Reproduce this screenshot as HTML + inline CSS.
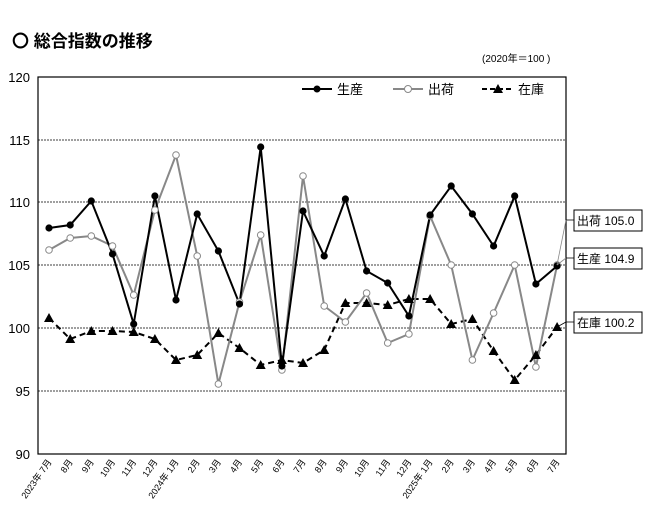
<!DOCTYPE html><html><head><meta charset="utf-8"><style>body{margin:0;background:#fff}svg{display:block;font-family:"Liberation Sans","Noto Sans CJK JP",sans-serif}</style></head><body>
<svg width="648" height="511" viewBox="0 0 648 511">
<defs>
<path id="tri" d="M0,-5 L5,4 L-5,4Z" fill="#000"/>
<circle id="oc" r="3.3" fill="#fff" stroke="#888" stroke-width="1"/>
<circle id="bc" r="3.6" fill="#000"/>
</defs>
<text x="12" y="47" font-size="17" font-weight="bold">〇 総合指数の推移</text>
<text x="482" y="62" font-size="10">(2020年＝100 )</text>
<g stroke="#000" stroke-width="0.8" stroke-dasharray="2,1">
<line x1="38" x2="566" y1="140" y2="140"/><line x1="38" x2="566" y1="202" y2="202"/><line x1="38" x2="566" y1="265" y2="265"/><line x1="38" x2="566" y1="328" y2="328"/><line x1="38" x2="566" y1="391" y2="391"/></g>
<rect x="38" y="77" width="528" height="377" fill="none" stroke="#000" stroke-width="1.2"/>
<g font-size="13" text-anchor="end"><text x="30" y="82">120</text><text x="30" y="145">115</text><text x="30" y="207">110</text><text x="30" y="270">105</text><text x="30" y="333">100</text><text x="30" y="396">95</text><text x="30" y="459">90</text></g>

<polyline fill="none" stroke="#000" stroke-width="2" stroke-dasharray="6,4" points="49,318 70.2,339 91.3,331 112.5,331 133.7,332 154.9,339 176,360 197.2,355 218.4,333 239.5,348 260.7,365 281.9,360 303,363 324.2,350 345.4,303 366.6,303 387.7,305 408.9,299 430.1,299 451.2,324 472.4,319 493.6,351 514.7,380 535.9,355 557.1,327"/>
<polyline fill="none" stroke="#888" stroke-width="2" points="49,250 70.2,238 91.3,236 112.5,246 133.7,295 154.9,210 176,155 197.2,256 218.4,384 239.5,302 260.7,235 281.9,370 303,176 324.2,306 345.4,322 366.6,293 387.7,343 408.9,334 430.1,216 451.2,265 472.4,360 493.6,313 514.7,265 535.9,367 557.1,265"/>
<polyline fill="none" stroke="#000" stroke-width="2" points="49,228 70.2,225 91.3,201 112.5,254 133.7,324 154.9,196 176,300 197.2,214 218.4,251 239.5,304 260.7,147 281.9,366 303,211 324.2,256 345.4,199 366.6,271 387.7,283 408.9,316 430.1,215 451.2,186 472.4,214 493.6,246 514.7,196 535.9,284 557.1,266"/>

<use href="#tri" x="49" y="318"/><use href="#tri" x="70.2" y="339"/><use href="#tri" x="91.3" y="331"/><use href="#tri" x="112.5" y="331"/><use href="#tri" x="133.7" y="332"/><use href="#tri" x="154.9" y="339"/><use href="#tri" x="176" y="360"/><use href="#tri" x="197.2" y="355"/><use href="#tri" x="218.4" y="333"/><use href="#tri" x="239.5" y="348"/><use href="#tri" x="260.7" y="365"/><use href="#tri" x="281.9" y="360"/><use href="#tri" x="303" y="363"/><use href="#tri" x="324.2" y="350"/><use href="#tri" x="345.4" y="303"/><use href="#tri" x="366.6" y="303"/><use href="#tri" x="387.7" y="305"/><use href="#tri" x="408.9" y="299"/><use href="#tri" x="430.1" y="299"/><use href="#tri" x="451.2" y="324"/><use href="#tri" x="472.4" y="319"/><use href="#tri" x="493.6" y="351"/><use href="#tri" x="514.7" y="380"/><use href="#tri" x="535.9" y="355"/><use href="#tri" x="557.1" y="327"/>

<use href="#oc" x="49" y="250"/><use href="#oc" x="70.2" y="238"/><use href="#oc" x="91.3" y="236"/><use href="#oc" x="112.5" y="246"/><use href="#oc" x="133.7" y="295"/><use href="#oc" x="154.9" y="210"/><use href="#oc" x="176" y="155"/><use href="#oc" x="197.2" y="256"/><use href="#oc" x="218.4" y="384"/><use href="#oc" x="239.5" y="302"/><use href="#oc" x="260.7" y="235"/><use href="#oc" x="281.9" y="370"/><use href="#oc" x="303" y="176"/><use href="#oc" x="324.2" y="306"/><use href="#oc" x="345.4" y="322"/><use href="#oc" x="366.6" y="293"/><use href="#oc" x="387.7" y="343"/><use href="#oc" x="408.9" y="334"/><use href="#oc" x="430.1" y="216"/><use href="#oc" x="451.2" y="265"/><use href="#oc" x="472.4" y="360"/><use href="#oc" x="493.6" y="313"/><use href="#oc" x="514.7" y="265"/><use href="#oc" x="535.9" y="367"/><use href="#oc" x="557.1" y="265"/>

<use href="#bc" x="49" y="228"/><use href="#bc" x="70.2" y="225"/><use href="#bc" x="91.3" y="201"/><use href="#bc" x="112.5" y="254"/><use href="#bc" x="133.7" y="324"/><use href="#bc" x="154.9" y="196"/><use href="#bc" x="176" y="300"/><use href="#bc" x="197.2" y="214"/><use href="#bc" x="218.4" y="251"/><use href="#bc" x="239.5" y="304"/><use href="#bc" x="260.7" y="147"/><use href="#bc" x="281.9" y="366"/><use href="#bc" x="303" y="211"/><use href="#bc" x="324.2" y="256"/><use href="#bc" x="345.4" y="199"/><use href="#bc" x="366.6" y="271"/><use href="#bc" x="387.7" y="283"/><use href="#bc" x="408.9" y="316"/><use href="#bc" x="430.1" y="215"/><use href="#bc" x="451.2" y="186"/><use href="#bc" x="472.4" y="214"/><use href="#bc" x="493.6" y="246"/><use href="#bc" x="514.7" y="196"/><use href="#bc" x="535.9" y="284"/><use href="#bc" x="557.1" y="266"/>

<g font-size="13">
<line x1="302" x2="332" y1="89" y2="89" stroke="#000" stroke-width="2"/><circle cx="317" cy="89" r="3.5"/><text x="337" y="94">生産</text>
<line x1="393" x2="423" y1="89" y2="89" stroke="#888" stroke-width="2"/><circle cx="408" cy="89" r="3.5" fill="#fff" stroke="#888"/><text x="428" y="94">出荷</text>
<line x1="482" x2="514" y1="89" y2="89" stroke="#000" stroke-width="2" stroke-dasharray="5,3"/><path d="M498,84 L503,93 L493,93Z"/><text x="518" y="94">在庫</text>
</g>
<g font-size="12"><rect x="574" y="210" width="68" height="21" fill="#fff" stroke="#000"/><text x="577" y="225">出荷 105.0</text>
<rect x="574" y="248" width="68" height="21" fill="#fff" stroke="#000"/><text x="577" y="263">生産 104.9</text>
<rect x="574" y="312" width="68" height="21" fill="#fff" stroke="#000"/><text x="577" y="327">在庫 100.2</text></g>
<g stroke-width="0.8"><line x1="566" y1="220" x2="574" y2="220" stroke="#000"/><line x1="557" y1="265" x2="566" y2="220" stroke="#888"/>
<line x1="566" y1="258" x2="574" y2="258" stroke="#000"/><line x1="557" y1="265" x2="566" y2="258" stroke="#888"/>
<line x1="566" y1="322" x2="574" y2="322" stroke="#000"/><line x1="557" y1="327" x2="566" y2="322" stroke="#000"/></g>

<g font-size="9" text-anchor="end">
<text transform="translate(52,462) rotate(-55)">2023年 7月</text>
<text transform="translate(73.2,462) rotate(-55)">8月</text>
<text transform="translate(94.3,462) rotate(-55)">9月</text>
<text transform="translate(115.5,462) rotate(-55)">10月</text>
<text transform="translate(136.7,462) rotate(-55)">11月</text>
<text transform="translate(157.9,462) rotate(-55)">12月</text>
<text transform="translate(179,462) rotate(-55)">2024年 1月</text>
<text transform="translate(200.2,462) rotate(-55)">2月</text>
<text transform="translate(221.4,462) rotate(-55)">3月</text>
<text transform="translate(242.5,462) rotate(-55)">4月</text>
<text transform="translate(263.7,462) rotate(-55)">5月</text>
<text transform="translate(284.9,462) rotate(-55)">6月</text>
<text transform="translate(306,462) rotate(-55)">7月</text>
<text transform="translate(327.2,462) rotate(-55)">8月</text>
<text transform="translate(348.4,462) rotate(-55)">9月</text>
<text transform="translate(369.6,462) rotate(-55)">10月</text>
<text transform="translate(390.7,462) rotate(-55)">11月</text>
<text transform="translate(411.9,462) rotate(-55)">12月</text>
<text transform="translate(433.1,462) rotate(-55)">2025年 1月</text>
<text transform="translate(454.2,462) rotate(-55)">2月</text>
<text transform="translate(475.4,462) rotate(-55)">3月</text>
<text transform="translate(496.6,462) rotate(-55)">4月</text>
<text transform="translate(517.7,462) rotate(-55)">5月</text>
<text transform="translate(538.9,462) rotate(-55)">6月</text>
<text transform="translate(560.1,462) rotate(-55)">7月</text>
</g>
</svg></body></html>
